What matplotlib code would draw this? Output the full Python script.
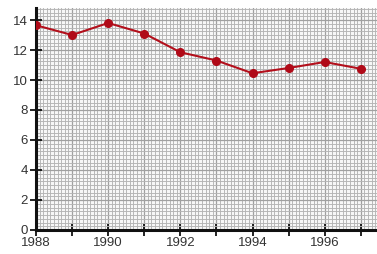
import matplotlib
matplotlib.use("Agg")
import matplotlib.pyplot as plt
import matplotlib.ticker as ticker

# values
years = [1988, 1989, 1990, 1991, 1992, 1993, 1994, 1995, 1996, 1997]
values = [13.65, 13.0, 13.8, 13.1, 11.85, 11.3, 10.45, 10.8, 11.2, 10.75]
xtick_years = [1988, 1990, 1992, 1994, 1996]
ytick_vals = [0, 2, 4, 6, 8, 10, 12, 14]

plt.rcParams['font.family'] = ['Liberation Sans', 'DejaVu Sans']

fig = plt.figure(figsize=(3.77, 2.54), dpi=100)
ax = fig.add_axes([36 / 377, 24 / 254, 341 / 377, 222 / 254])

ax.set_xlim(1988, 1997.45)
ax.set_ylim(0, 14.8)

# graph paper background
ax.set_facecolor('#f7f7f7')
ax.xaxis.set_minor_locator(ticker.MultipleLocator(0.1))
ax.yaxis.set_minor_locator(ticker.MultipleLocator(0.25))
ax.grid(which='minor', color='#b4b4b4', linewidth=0.65)
ax.grid(which='major', color='#a0a0a0', linewidth=0.9)
ax.set_axisbelow(True)

ax.plot(years, values, color='#b3101c', linewidth=1.5, marker='o',
        markersize=5.5, markerfacecolor='#b00a18', markeredgecolor='#b00a18',
        zorder=3)

ax.set_xticks(range(1988, 1998))
ax.set_xticklabels([str(y) if y in xtick_years else '' for y in range(1988, 1998)])
ax.set_yticks(ytick_vals)
ax.set_yticklabels([str(v) for v in ytick_vals])

ax.tick_params(which='major', direction='inout', length=8, width=1.3,
               color='#111111', labelsize=9.5, labelcolor='#333333')
ax.tick_params(axis='y', pad=2)
ax.tick_params(axis='x', pad=1)
ax.tick_params(which='minor', length=0)

for lab in ax.get_xticklabels() + ax.get_yticklabels():
    lab.set_fontweight('medium')

for side in ['top', 'right']:
    ax.spines[side].set_visible(False)
for side in ['left', 'bottom']:
    ax.spines[side].set_linewidth(2.2)
    ax.spines[side].set_color('#111111')

fig.savefig('out.png', dpi=100)
